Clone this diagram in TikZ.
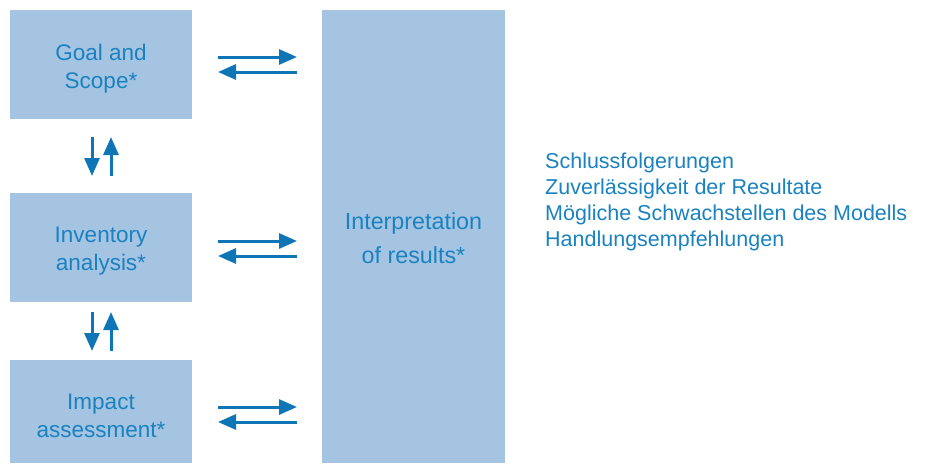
\documentclass[tikz,border=0pt]{standalone}
\usepackage{fontspec}
\setmainfont{Liberation Sans}
\usetikzlibrary{arrows.meta}
\definecolor{boxfill}{HTML}{A4C4E2}
\definecolor{textblue}{HTML}{1A82C0}
\definecolor{arrowblue}{HTML}{0E76B6}
\tikzset{
  phase/.style={fill=boxfill, draw=none, inner sep=0pt, minimum width=182pt},
  boxlabel/.style={anchor=base, inner sep=0pt, text=textblue, font=\fontsize{22.5}{28}\selectfont},
  biglabel/.style={anchor=base, inner sep=0pt, text=textblue, font=\fontsize{23.3}{34}\selectfont},
  listlabel/.style={anchor=base west, inner sep=0pt, text=textblue, font=\fontsize{21.5}{26}\selectfont},
  flow/.style={draw=arrowblue, line width=3pt, -{Triangle[length=18pt,width=15pt]}}
}
\begin{document}
\begin{tikzpicture}[x=1pt,y=-1pt]
\useasboundingbox (0,0) rectangle (925,463);

% phase boxes
\node[phase, minimum height=109pt, anchor=north west] (goal) at (10,10) {};
\node[phase, minimum height=109pt, anchor=north west] (inv) at (10,193) {};
\node[phase, minimum height=103pt, anchor=north west] (imp) at (10,360) {};
\node[phase, minimum width=183pt, minimum height=453pt, anchor=north west] (interp) at (322,10) {};

% box texts
\node[boxlabel] (goalA) at (101,60) {Goal and};
\node[boxlabel] (goalB) at (101,88) {Scope*};
\node[boxlabel] (invA) at (101,242) {Inventory};
\node[boxlabel] (invB) at (101,270) {analysis*};
\node[boxlabel] (impA) at (101,409) {Impact};
\node[boxlabel] (impB) at (101,437) {assessment*};
\node[biglabel] (intA) at (413.5,229) {Interpretation};
\node[biglabel] (intB) at (413.5,263) {of results*};

% list of outcomes
\node[listlabel] (l1) at (545,168) {Schlussfolgerungen};
\node[listlabel] (l2) at (545,194) {Zuverlässigkeit der Resultate};
\node[listlabel] (l3) at (545,220) {Mögliche Schwachstellen des Modells};
\node[listlabel] (l4) at (545,246) {Handlungsempfehlungen};

% horizontal arrow ends
\coordinate (gL1) at (218,57);  \coordinate (gR1) at (297,57);
\coordinate (gL2) at (218,72);  \coordinate (gR2) at (297,72);
\coordinate (iL1) at (218,241); \coordinate (iR1) at (297,241);
\coordinate (iL2) at (218,256); \coordinate (iR2) at (297,256);
\coordinate (mL1) at (218,407); \coordinate (mR1) at (297,407);
\coordinate (mL2) at (218,422); \coordinate (mR2) at (297,422);

% vertical arrow ends
\coordinate (aT1) at (92,137);  \coordinate (aB1) at (92,176);
\coordinate (aT2) at (111,137); \coordinate (aB2) at (111,176);
\coordinate (bT1) at (92,312);  \coordinate (bB1) at (92,351);
\coordinate (bT2) at (111,312); \coordinate (bB2) at (111,351);

% arrows
\draw[flow] (gL1) -- (gR1);
\draw[flow] (gR2) -- (gL2);
\draw[flow] (iL1) -- (iR1);
\draw[flow] (iR2) -- (iL2);
\draw[flow] (mL1) -- (mR1);
\draw[flow] (mR2) -- (mL2);
\draw[flow] (aT1) -- (aB1);
\draw[flow] (aB2) -- (aT2);
\draw[flow] (bT1) -- (bB1);
\draw[flow] (bB2) -- (bT2);
\end{tikzpicture}
\end{document}
